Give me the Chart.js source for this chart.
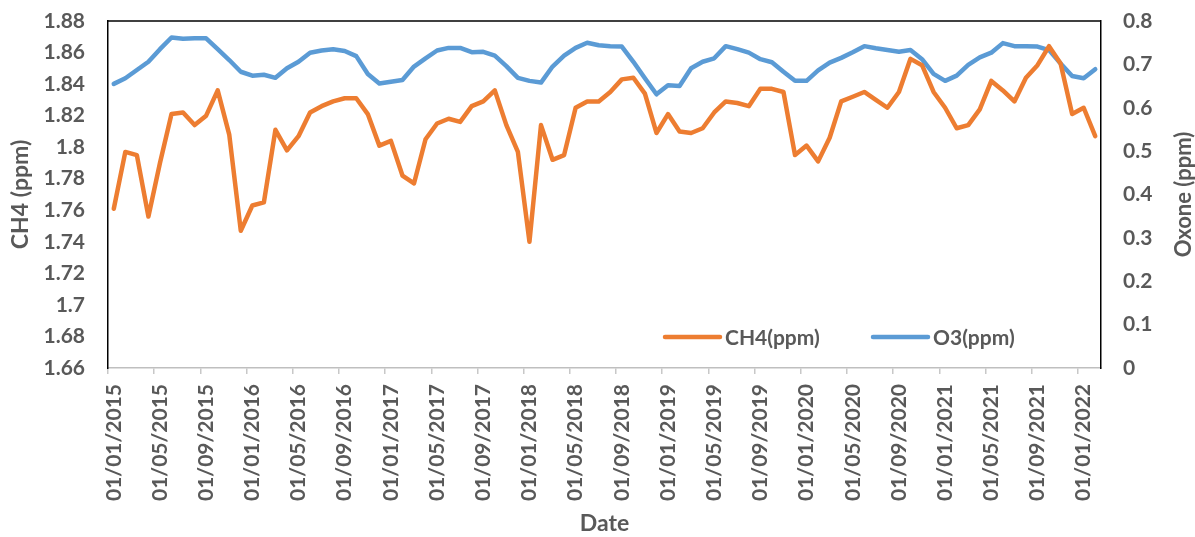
<!DOCTYPE html>
<html lang="en">
<head>
  <meta charset="UTF-8">
  <title>CH4 and O3</title>
  <script src="https://cdn.jsdelivr.net/npm/chart.js"></script>
  <style>
    html, body { margin: 0; padding: 0; background: #fff; }
    #wrap { width: 1195px; height: 537px; }
  </style>
</head>
<body>
  <div id="wrap"><canvas id="grafico" width="1195" height="537"></canvas></div>

  <script>
    // monthly labels 01/01/2015 .. 01/02/2022 (86 months)
    const fechas = [];
    for (let y = 2015; y <= 2022; y++) {
      for (let m = 1; m <= 12; m++) {
        if (fechas.length < 86) fechas.push('01/' + String(m).padStart(2, '0') + '/' + y);
      }
    }

    const ch4 = [
      1.761, 1.797, 1.795, 1.756, 1.790, 1.821, 1.822, 1.814, 1.820, 1.836, 1.808, 1.747,
      1.763, 1.765, 1.811, 1.798, 1.807, 1.822, 1.826, 1.829, 1.831, 1.831, 1.821, 1.801,
      1.804, 1.782, 1.777, 1.805, 1.815, 1.818, 1.816, 1.826, 1.829, 1.836, 1.814, 1.797,
      1.740, 1.814, 1.792, 1.795, 1.825, 1.829, 1.829, 1.835, 1.843, 1.844, 1.834, 1.809,
      1.821, 1.810, 1.809, 1.812, 1.822, 1.829, 1.828, 1.826, 1.837, 1.837, 1.835, 1.795,
      1.801, 1.791, 1.806, 1.829, 1.832, 1.835, 1.830, 1.825, 1.835, 1.856, 1.852, 1.835,
      1.825, 1.812, 1.814, 1.824, 1.842, 1.836, 1.829, 1.844, 1.852, 1.864, 1.853, 1.821,
      1.825, 1.807
    ];

    const o3 = [
      0.655, 0.668, 0.687, 0.706, 0.735, 0.762, 0.759, 0.760, 0.760, 0.735, 0.710, 0.683,
      0.674, 0.676, 0.669, 0.691, 0.706, 0.727, 0.732, 0.735, 0.731, 0.719, 0.678, 0.656,
      0.660, 0.664, 0.695, 0.714, 0.732, 0.738, 0.738, 0.728, 0.729, 0.720, 0.696, 0.669,
      0.662, 0.658, 0.695, 0.720, 0.738, 0.750, 0.744, 0.742, 0.741, 0.706, 0.668, 0.631,
      0.652, 0.650, 0.691, 0.706, 0.714, 0.742, 0.735, 0.727, 0.712, 0.705, 0.683, 0.662,
      0.662, 0.686, 0.704, 0.715, 0.728, 0.742, 0.737, 0.733, 0.729, 0.733, 0.712, 0.678,
      0.662, 0.674, 0.699, 0.716, 0.727, 0.749, 0.742, 0.742, 0.741, 0.733, 0.702, 0.673,
      0.668, 0.689
    ];

    const ch4Min = 1.66, ch4Max = 1.88, ch4Step = 0.02;
    const o3Min = 0, o3Max = 0.8, o3Step = 0.1;

    const naranja = '#ED7D31';
    const azul = '#5B9BD5';
    const gris = '#595959';
    const fuente = 'Lato, "Open Sans", sans-serif';

    // top border, right axis title (reads bottom-to-top) and inner legend
    const extras = {
      id: 'extras',
      afterDraw(chart) {
        const { ctx, chartArea: a } = chart;
        ctx.save();
        ctx.strokeStyle = '#000';
        ctx.lineWidth = 1.5;
        ctx.beginPath();
        ctx.moveTo(a.left, a.top);
        ctx.lineTo(a.right, a.top);
        ctx.stroke();

        ctx.fillStyle = gris;
        ctx.font = 'bold 22px ' + fuente;
        ctx.textAlign = 'center';
        ctx.textBaseline = 'middle';
        ctx.translate(1184, (a.top + a.bottom) / 2);
        ctx.rotate(-Math.PI / 2);
        ctx.fillText('Oxone (ppm)', 0, 0);
        ctx.restore();

        const items = [
          { text: 'CH4(ppm)', color: naranja, x: 665 },
          { text: 'O3(ppm)', color: azul, x: 873 }
        ];
        ctx.save();
        ctx.font = 'bold 21px ' + fuente;
        ctx.textBaseline = 'middle';
        ctx.textAlign = 'left';
        items.forEach(it => {
          ctx.strokeStyle = it.color;
          ctx.lineWidth = 4.5;
          ctx.lineCap = 'round';
          ctx.beginPath();
          ctx.moveTo(it.x, 337);
          ctx.lineTo(it.x + 55, 337);
          ctx.stroke();
          ctx.fillStyle = gris;
          ctx.fillText(it.text, it.x + 60, 338);
        });
        ctx.restore();
      }
    };

    const sinColor = 'rgba(0,0,0,0)';

    const ctx = document.getElementById('grafico').getContext('2d');
    new Chart(ctx, {
      type: 'line',
      data: {
        labels: fechas,
        datasets: [
          {
            label: 'CH4(ppm)',
            data: ch4,
            yAxisID: 'y',
            borderColor: naranja,
            borderWidth: 4.5,
            borderJoinStyle: 'round',
            borderCapStyle: 'round',
            pointRadius: 0,
            tension: 0,
            fill: false
          },
          {
            label: 'O3(ppm)',
            data: o3,
            yAxisID: 'y1',
            borderColor: azul,
            borderWidth: 4.5,
            borderJoinStyle: 'round',
            borderCapStyle: 'round',
            pointRadius: 0,
            tension: 0,
            fill: false
          }
        ]
      },
      options: {
        responsive: false,
        animation: false,
        layout: { padding: { top: 21, left: 0, right: 0, bottom: 0 } },
        plugins: {
          legend: { display: false },
          tooltip: { enabled: false }
        },
        scales: {
          x: {
            offset: true,
            afterFit: s => { s.height = 169; },
            grid: {
              offset: true,
              drawOnChartArea: false,
              drawTicks: true,
              tickLength: 6,
              color: c => (c.index % 4 === 0 ? '#c8c8c8' : sinColor),
              lineWidth: 1.5
            },
            border: { color: '#bfbfbf', width: 1.5 },
            ticks: {
              autoSkip: false,
              minRotation: 90,
              maxRotation: 90,
              padding: 10,
              color: gris,
              font: { family: fuente, size: 21, weight: 'bold' },
              callback: (v, i) => (i % 4 === 0 ? fechas[i] : '')
            },
            title: {
              display: true,
              text: 'Date',
              color: gris,
              font: { family: fuente, size: 23, weight: 'bold' },
              padding: { top: 0, bottom: 0 }
            }
          },
          y: {
            position: 'left',
            min: ch4Min,
            max: ch4Max,
            afterFit: s => { s.width = 108; },
            grid: { drawOnChartArea: false, drawTicks: true, tickLength: 23, tickColor: sinColor },
            border: { color: '#000', width: 1.5 },
            ticks: {
              stepSize: ch4Step,
              padding: 0,
              color: gris,
              font: { family: fuente, size: 21, weight: 'bold' },
              callback: v => String(Math.round(v * 100) / 100)
            },
            title: {
              display: true,
              text: 'CH4 (ppm)',
              color: gris,
              font: { family: fuente, size: 23, weight: 'bold' },
              padding: { top: 7, bottom: 0 }
            }
          },
          y1: {
            position: 'right',
            min: o3Min,
            max: o3Max,
            afterFit: s => { s.width = 94; },
            grid: { drawOnChartArea: false, drawTicks: true, tickLength: 22, tickColor: sinColor },
            border: { color: '#000', width: 1.5 },
            ticks: {
              stepSize: o3Step,
              padding: 0,
              color: gris,
              font: { family: fuente, size: 21, weight: 'bold' },
              callback: v => String(Math.round(v * 10) / 10)
            }
          }
        }
      },
      plugins: [extras]
    });
  </script>
</body>
</html>
